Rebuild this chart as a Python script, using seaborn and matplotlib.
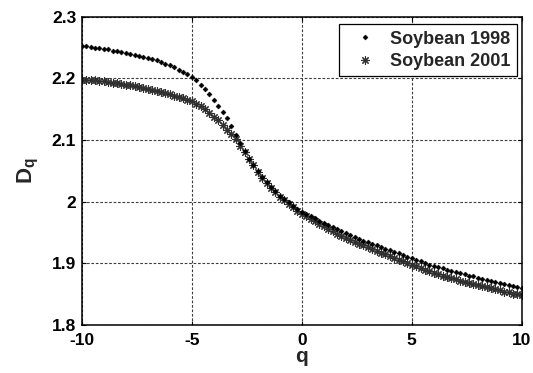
import matplotlib
matplotlib.use("Agg")
import matplotlib.pyplot as plt
import seaborn as sns
import pandas as pd

q = [-10.0, -9.8, -9.6, -9.4, -9.2, -9.0, -8.8, -8.6, -8.4, -8.2,
     -8.0, -7.8, -7.6, -7.4, -7.2, -7.0, -6.8, -6.6, -6.4, -6.2,
     -6.0, -5.8, -5.6, -5.4, -5.2, -5.0, -4.8, -4.6, -4.4, -4.2,
     -4.0, -3.8, -3.6, -3.4, -3.2, -3.0, -2.8, -2.6, -2.4, -2.2,
     -2.0, -1.8, -1.6, -1.4, -1.2, -1.0, -0.8, -0.6, -0.4, -0.2,
     0.0, 0.2, 0.4, 0.6, 0.8, 1.0, 1.2, 1.4, 1.6, 1.8,
     2.0, 2.2, 2.4, 2.6, 2.8, 3.0, 3.2, 3.4, 3.6, 3.8,
     4.0, 4.2, 4.4, 4.6, 4.8, 5.0, 5.2, 5.4, 5.6, 5.8,
     6.0, 6.2, 6.4, 6.6, 6.8, 7.0, 7.2, 7.4, 7.6, 7.8,
     8.0, 8.2, 8.4, 8.6, 8.8, 9.0, 9.2, 9.4, 9.6, 9.8, 10.0]

soy1998 = [2.253, 2.252, 2.251, 2.250, 2.249, 2.248, 2.247, 2.245, 2.244, 2.243,
           2.241, 2.240, 2.238, 2.237, 2.235, 2.233, 2.231, 2.229, 2.226, 2.224,
           2.221, 2.218, 2.214, 2.211, 2.207, 2.203, 2.197, 2.190, 2.182, 2.174,
           2.165, 2.155, 2.145, 2.135, 2.122, 2.108, 2.095, 2.082, 2.070, 2.059,
           2.049, 2.040, 2.032, 2.024, 2.017, 2.010, 2.004, 1.999, 1.993, 1.988,
           1.984, 1.980, 1.976, 1.973, 1.969, 1.966, 1.962, 1.959, 1.955, 1.952,
           1.949, 1.946, 1.943, 1.940, 1.937, 1.934, 1.931, 1.929, 1.926, 1.924,
           1.921, 1.918, 1.916, 1.913, 1.911, 1.908, 1.906, 1.903, 1.901, 1.898,
           1.896, 1.894, 1.892, 1.890, 1.888, 1.886, 1.884, 1.882, 1.880, 1.879,
           1.877, 1.875, 1.873, 1.872, 1.870, 1.868, 1.866, 1.865, 1.863, 1.862, 1.860]

soy2001 = [2.198, 2.198, 2.197, 2.197, 2.196, 2.195, 2.194, 2.193, 2.192, 2.191,
           2.190, 2.189, 2.187, 2.186, 2.184, 2.183, 2.181, 2.179, 2.178, 2.176,
           2.174, 2.172, 2.170, 2.168, 2.165, 2.163, 2.159, 2.155, 2.150, 2.144,
           2.138, 2.132, 2.125, 2.117, 2.109, 2.101, 2.091, 2.081, 2.070, 2.059,
           2.048, 2.039, 2.031, 2.023, 2.015, 2.008, 2.002, 1.996, 1.991, 1.985,
           1.980, 1.976, 1.972, 1.968, 1.964, 1.960, 1.956, 1.952, 1.948, 1.945,
           1.941, 1.938, 1.935, 1.932, 1.929, 1.926, 1.923, 1.920, 1.917, 1.915,
           1.912, 1.909, 1.906, 1.903, 1.901, 1.898, 1.895, 1.893, 1.890, 1.888,
           1.885, 1.883, 1.880, 1.878, 1.876, 1.874, 1.872, 1.870, 1.868, 1.867,
           1.865, 1.863, 1.861, 1.860, 1.858, 1.856, 1.854, 1.853, 1.851, 1.850, 1.848]

xticks = [-10, -5, 0, 5, 10]
xticklabels = ["-10", "-5", "0", "5", "10"]
yticks = [1.8, 1.9, 2.0, 2.1, 2.2, 2.3]
yticklabels = ["1.8", "1.9", "2", "2.1", "2.2", "2.3"]

sns.set_theme(style="white")
plt.rcParams["font.family"] = ["Liberation Sans", "DejaVu Sans"]
plt.rcParams["font.weight"] = "bold"
plt.rcParams["mathtext.fontset"] = "custom"
plt.rcParams["mathtext.bf"] = "Liberation Sans:bold"
plt.rcParams["mathtext.rm"] = "Liberation Sans:bold"

df98 = pd.DataFrame({"q": q, "D": soy1998})
df01 = pd.DataFrame({"q": q, "D": soy2001})

fig = plt.figure(figsize=(5.33, 3.73), dpi=100)
ax = fig.add_axes([0.1533, 0.1287, 0.8255, 0.8265])

sns.lineplot(data=df01, x="q", y="D", ax=ax, linestyle="", marker=(8, 2, 0),
             markersize=6, markeredgewidth=0.8, color="#303030",
             markeredgecolor="#303030", label="Soybean 2001", zorder=3)
sns.lineplot(data=df98, x="q", y="D", ax=ax, linestyle="", marker="D",
             markersize=2.6, markeredgewidth=0.3, color="black",
             markeredgecolor="black", label="Soybean 1998", zorder=4)

ax.set_xlim(-10, 10)
ax.set_ylim(1.8, 2.3)
ax.set_xticks(xticks)
ax.set_xticklabels(xticklabels, fontsize=12.5, fontweight="bold")
ax.set_yticks(yticks)
ax.set_yticklabels(yticklabels, fontsize=12.5, fontweight="bold")
ax.tick_params(direction="in", length=3, width=0.8, colors="black",
               top=True, right=True, bottom=True, left=True)
ax.tick_params(axis="x", pad=6)
ax.tick_params(axis="y", pad=4)

ax.grid(True, color="#3c3c3c", linestyle=(0, (2.4, 1.6)), linewidth=0.8)
for s in ax.spines.values():
    s.set_color("black")
    s.set_linewidth(1.1)
    s.set_zorder(5)

ax.set_xlabel("q", fontsize=15, fontweight="bold", labelpad=-1)
ax.set_ylabel(r"$\mathbf{D_q}$", fontsize=16, labelpad=8)

handles, labels = ax.get_legend_handles_labels()
order = [labels.index("Soybean 1998"), labels.index("Soybean 2001")]
leg = ax.legend([handles[i] for i in order], [labels[i] for i in order],
                loc="upper right", bbox_to_anchor=(0.9886, 0.975), borderaxespad=0,
                frameon=True, fancybox=False, edgecolor="black", framealpha=1,
                prop={"size": 13, "weight": "bold"}, handlelength=2.2,
                handletextpad=0.3, borderpad=0.35, labelspacing=0.3)
leg.get_frame().set_linewidth(0.9)

fig.savefig("out.png", dpi=100)
